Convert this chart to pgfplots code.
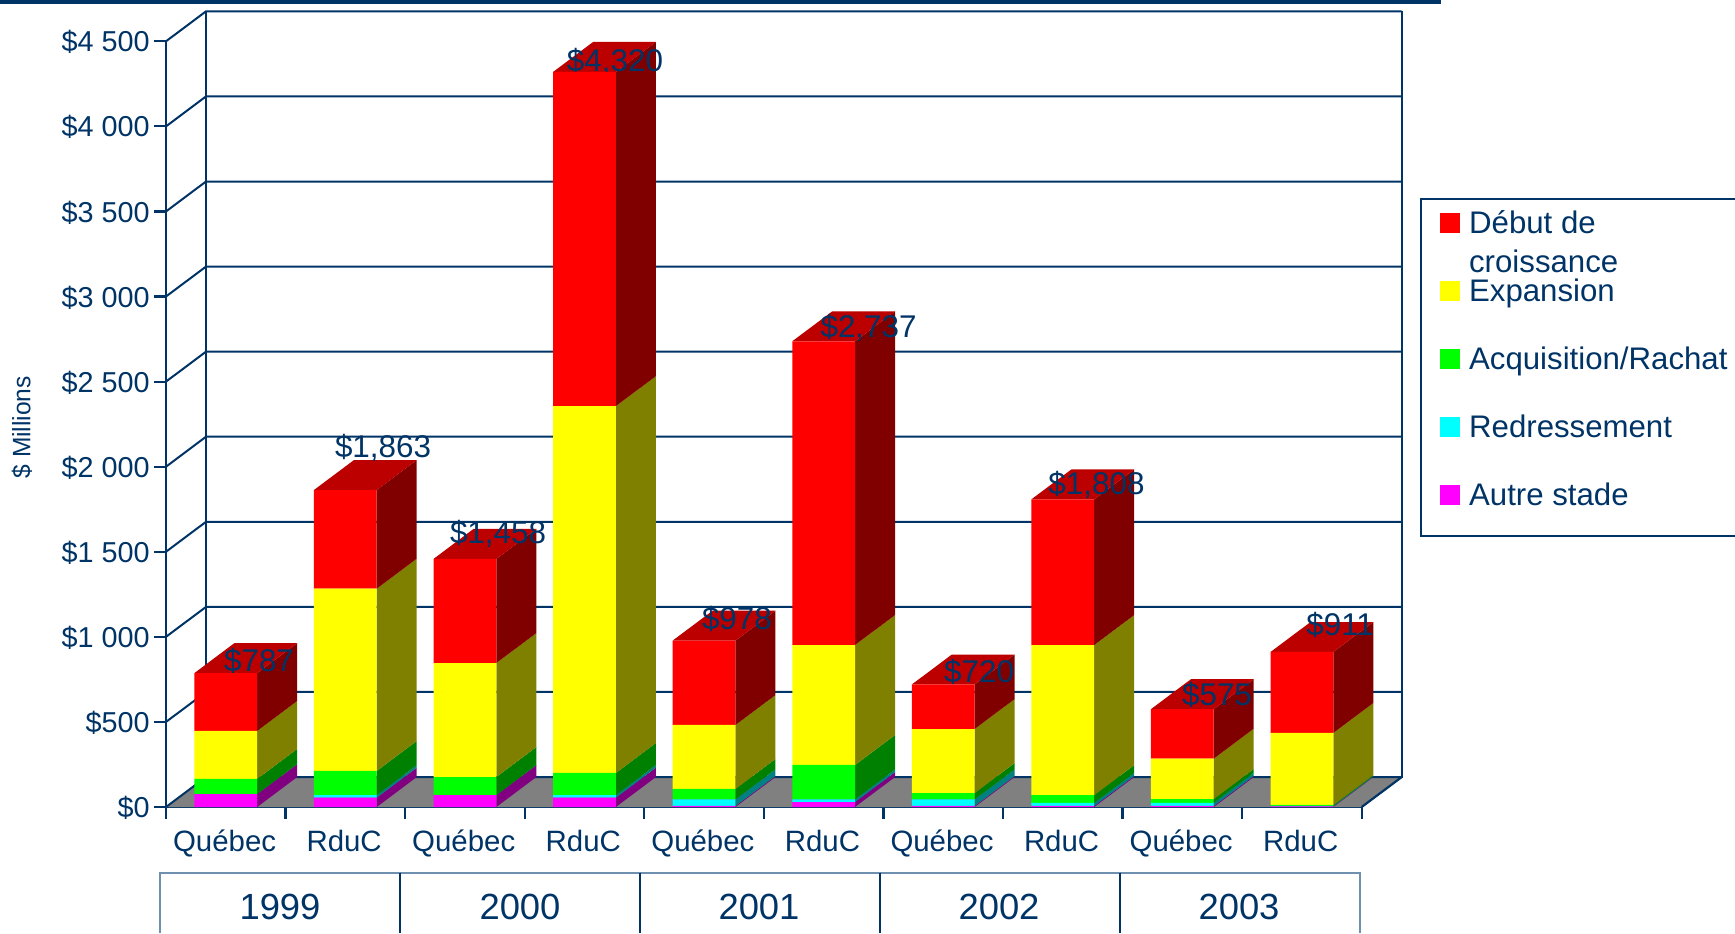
\documentclass[border=0pt]{standalone}
\usepackage{fontspec}
\setmainfont{Liberation Sans}
\usepackage{pgfplots}
\usepackage{pgfplotstable}
\pgfplotsset{compat=1.18}
\definecolor{navy}{HTML}{003366}
\definecolor{pale}{HTML}{7090B0}
\definecolor{fred}{HTML}{FF0000}
\definecolor{fyellow}{HTML}{FFFF00}
\definecolor{fgreen}{HTML}{00FF00}
\definecolor{fcyan}{HTML}{00FFFF}
\definecolor{fmagenta}{HTML}{FF00FF}
\definecolor{floorgray}{HTML}{808080}
\definecolor{sred}{HTML}{800000}
\definecolor{tred}{HTML}{BC0000}
\definecolor{syellow}{HTML}{808000}
\definecolor{sgreen}{HTML}{008000}
\definecolor{scyan}{HTML}{008080}
\definecolor{smagenta}{HTML}{800080}
\pgfplotstableread{
pos  m  c  g   y    r
0.5 76  0  89  282  340
1.5 55 15 142 1071  580
2.5 70  0 106  670  612
3.5 55 15 130 2156 1964
4.5  6 39  61  376  496
5.5 29 16 202  705 1785
6.5  6 39  37  376  262
7.5  6 18  46  882  856
8.5  6 19  22  237  291
9.5  3  3   6  423  476
}\data
\def\hw{0.2625}
\def\ddx{0.3345}
\def\ddy{176}
\newcommand\seg[4]{%
  \pgfmathsetmacro\xa{#1+0.5+\hw}%
  \pgfmathsetmacro\xb{\xa+\ddx}%
  \pgfmathsetmacro\yc{#2+\ddy}%
  \pgfmathsetmacro\yd{#3+\ddy}%
  \edef\temp{\noexpand\addplot[fill=#4,draw=none,no marks,forget plot] coordinates {(\xa,#2)(\xb,\yc)(\xb,\yd)(\xa,#3)} --cycle;}\temp}
\newcommand\topf[2]{%
  \pgfmathsetmacro\xa{#1+0.5+\hw}%
  \pgfmathsetmacro\xb{\xa+\ddx}%
  \pgfmathsetmacro\xl{#1+0.5-\hw}%
  \pgfmathsetmacro\xm{\xl+\ddx}%
  \pgfmathsetmacro\yc{#2+\ddy}%
  \edef\temp{\noexpand\addplot[fill=tred,draw=none,no marks,forget plot] coordinates {(\xl,#2)(\xm,\yc)(\xb,\yc)(\xa,#2)} --cycle;}\temp}
\newcommand\wall[1]{%
  \pgfmathsetmacro\yc{#1+\ddy}%
  \edef\temp{\noexpand\addplot[navy,line width=1pt,no marks,forget plot] coordinates {(0,#1)(\ddx,\yc)(10.3345,\yc)};}\temp}
\pgfplotsset{
  sq/.style={legend image code/.code={\path[##1] (0pt,-5.5pt) rectangle (10pt,4.5pt);}},
  common/.style={scale only axis,width=597.85pt,height=382.85pt,at={(83pt,63pt)},
    xmin=0,xmax=10,ymin=0,ymax=4500,clip=false},
}
\newcommand\dl[3]{\node[navy,font=\fontsize{15.7pt}{18pt}\selectfont,inner sep=0pt,text height=11.3pt,text depth=0pt,anchor=center] at (axis cs:#1,#2) {#3};}
\begin{document}
\begin{tikzpicture}
\begin{axis}[common,
  axis x line*=bottom,axis y line*=left,
  axis line style={navy,line width=1.2pt,-},
  tick style={navy,line width=1.1pt},
  tick align=outside,major tick length=6pt,minor tick length=6pt,
  xtick={0.5,1.5,2.5,3.5,4.5,5.5,6.5,7.5,8.5,9.5},
  xticklabels={Québec,RduC,Québec,RduC,Québec,RduC,Québec,RduC,Québec,RduC},
  minor xtick={0,1,2,3,4,5,6,7,8,9,10},
  major x tick style={draw=none},
  xticklabel shift=5pt,
  xticklabel style={navy,font=\fontsize{14.7pt}{17pt}\selectfont,anchor=north,inner sep=0pt,text height=11pt,text depth=3pt,xshift=-0.6pt},
  ytick={0,500,1000,1500,2000,2500,3000,3500,4000,4500},
  yticklabels={\$0,\$500,\$1 000,\$1 500,\$2 000,\$2 500,\$3 000,\$3 500,\$4 000,\$4 500},
  yticklabel shift=2pt,
  yticklabel style={navy,font=\fontsize{14.4pt}{17pt}\selectfont,anchor=east,inner sep=0pt,text height=10.6pt,text depth=0pt},
  ylabel={\scalebox{0.975}[1]{\$ Millions}},
  ylabel style={navy,font=\fontsize{12.6pt}{15pt}\selectfont,rotate=0,at={(axis description cs:-0.1204,0.496)},anchor=center,inner sep=0pt},
]
\addplot[fill=floorgray,draw=none,no marks,forget plot] coordinates {(0,0)(0.3345,176)(10.3345,176)(10,0)} --cycle;
\addplot[navy,line width=1.1pt,no marks,forget plot] coordinates {(0.3345,4676)(0.3345,176)(10.3345,176)(10.3345,4676)};
\addplot[navy,line width=1.1pt,no marks,forget plot] coordinates {(10,0)(10.3345,176)};
\wall{0}\wall{500}\wall{1000}\wall{1500}\wall{2000}\wall{2500}\wall{3000}\wall{3500}\wall{4000}\wall{4500}
\pgfplotsinvokeforeach{0,1,2,3,4,5,6,7,8,9}{%
  \pgfplotstablegetelem{#1}{m}\of\data \let\vm\pgfplotsretval
  \pgfplotstablegetelem{#1}{c}\of\data \let\vc\pgfplotsretval
  \pgfplotstablegetelem{#1}{g}\of\data \let\vg\pgfplotsretval
  \pgfplotstablegetelem{#1}{y}\of\data \let\vy\pgfplotsretval
  \pgfplotstablegetelem{#1}{r}\of\data \let\vr\pgfplotsretval
  \pgfmathsetmacro\sa{\vm}\pgfmathsetmacro\sb{\sa+\vc}\pgfmathsetmacro\sc{\sb+\vg}%
  \pgfmathsetmacro\sd{\sc+\vy}\pgfmathsetmacro\se{\sd+\vr}%
  \seg{#1}{0}{\sa}{smagenta}\seg{#1}{\sa}{\sb}{scyan}\seg{#1}{\sb}{\sc}{sgreen}%
  \seg{#1}{\sc}{\sd}{syellow}\seg{#1}{\sd}{\se}{sred}\topf{#1}{\se}%
}
\end{axis}
\begin{axis}[common,hide axis,ybar stacked,bar width=0.525,
  reverse legend,
  legend style={at={(1.0655,0.781)},anchor=north west,draw=none,fill=none,inner sep=0pt,
    row sep=21pt,column sep=4.35pt,
    nodes={inner sep=0pt,text=navy,font=\fontsize{15.6pt}{18pt}\selectfont,text height=12pt,text depth=1pt}},
  legend cell align=left,
]
\addplot[sq,fill=fmagenta,draw=none] table[x=pos,y=m]{\data};
\addplot[sq,fill=fcyan,draw=none] table[x=pos,y=c]{\data};
\addplot[sq,fill=fgreen,draw=none] table[x=pos,y=g]{\data};
\addplot[sq,fill=fyellow,draw=none] table[x=pos,y=y]{\data};
\addplot[sq,fill=fred,draw=none] table[x=pos,y=r]{\data};
\legend{Autre stade,Redressement,Acquisition/Rachat,Expansion,{\makebox[0pt][l]{\raisebox{-19.5pt}[0pt][0pt]{croissance}}Début de}}
\dl{0.778}{860}{\$787}
\dl{1.815}{2122}{\$1,863}
\dl{2.777}{1616}{\$1,458}
\dl{3.755}{4390}{\$4,320}
\dl{4.775}{1108}{\$978}
\dl{5.876}{2827}{\$2,737}
\dl{6.80}{796}{\$720}
\dl{7.782}{1901}{\$1,808}
\dl{8.79}{665}{\$575}
\dl{9.82}{1075}{\$911}
\end{axis}
\begin{scope}[x=0.5pt,y=-0.5pt,shift={(0pt,466.5pt)}]
\fill[navy] (0,0) rectangle (1441,4);
\draw[navy,line width=1pt] (1735,199.3)--(1421,199.3)--(1421,535.7)--(1735,535.7);
\draw[pale,line width=1pt] (160,933)--(160,872.7)--(1360,872.7)--(1360,933);
\draw[navy,line width=1pt] (399.5,872.7)--(399.5,933) (639.5,872.7)--(639.5,933) (879.6,872.7)--(879.6,933) (1119.8,872.7)--(1119.8,933);
\foreach \x/\t in {280/1999,520/2000,759/2001,999/2002,1239/2003}
  \node[navy,font=\fontsize{18.2pt}{21pt}\selectfont,anchor=base,inner sep=0pt] at (\x,919.3) {\t};
\end{scope}
\pgfresetboundingbox
\path[use as bounding box] (0pt,0pt) rectangle (867.5pt,466.5pt);
\end{tikzpicture}
\end{document}
